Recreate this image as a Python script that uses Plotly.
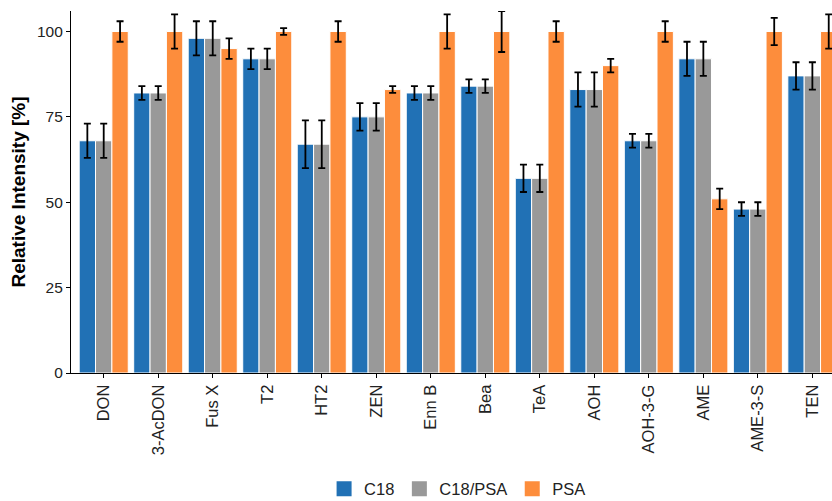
import plotly.graph_objects as go

# Analytes (x categories)
analytes = ["DON", "3-AcDON", "Fus X", "T2", "HT2", "ZEN", "Enn B", "Bea",
            "TeA", "AOH", "AOH-3-G", "AME", "AME-3-S", "TEN"]

# Relative intensity [%] per clean-up sorbent
c18 = [68, 82, 98, 92, 67, 75, 82, 84, 57, 83, 68, 92, 48, 87]
c18_psa = [68, 82, 98, 92, 67, 75, 82, 84, 57, 83, 68, 92, 48, 87]
psa = [100, 100, 95, 100, 100, 83, 100, 100, 100, 90, 100, 51, 100, 100]

# Standard deviations
c18_sd = [5, 2, 5, 3, 7, 4, 2, 2, 4, 5, 2, 5, 2, 4]
c18_psa_sd = [5, 2, 5, 3, 7, 4, 2, 2, 4, 5, 2, 5, 2, 4]
psa_sd = [3, 5, 3, 1, 3, 1, 5, 6, 3, 2, 3, 3, 4, 5]

series = [
    ("C18", c18, c18_sd, "#2171B5"),
    ("C18/PSA", c18_psa, c18_psa_sd, "#999999"),
    ("PSA", psa, psa_sd, "#FD8D3C"),
]

FONT = "Liberation Sans, Arial, sans-serif"
TEXT = "#222222"

fig = go.Figure()
for name, vals, sd, color in series:
    fig.add_trace(go.Bar(
        name=name,
        x=list(range(len(analytes))),
        y=vals,
        marker=dict(color=color, line=dict(color="white", width=1)),
        error_y=dict(type="data", array=sd, visible=True,
                     color="black", thickness=1.8, width=3.5),
        showlegend=False,
    ))

# Legend keys drawn as larger filled squares
for name, _, _, color in series:
    fig.add_trace(go.Scatter(
        name=name,
        x=[None], y=[None],
        mode="markers",
        marker=dict(symbol="square", size=15, color=color),
        showlegend=True,
    ))

fig.update_layout(
    barmode="group",
    bargap=0.1,
    bargroupgap=0,
    width=832,
    height=501,
    margin=dict(l=71, r=0, t=11, b=128),
    paper_bgcolor="white",
    plot_bgcolor="white",
    font=dict(family=FONT, size=16, color=TEXT),
    showlegend=True,
    legend=dict(
        orientation="h",
        x=0.508, xanchor="center",
        yref="container",
        y=0.024, yanchor="middle",
        font=dict(size=16.5, color=TEXT),
        traceorder="normal",
        itemwidth=30,
        itemsizing="trace",
    ),
)

fig.update_xaxes(
    tickmode="array",
    tickvals=list(range(len(analytes))),
    ticktext=analytes,
    tickangle=-90,
    range=[-0.6, 13.36],
    automargin=False,
    showline=True, linecolor="black", linewidth=1.2,
    ticks="outside", ticklen=4, tickcolor="black", tickwidth=1,
    showgrid=False, zeroline=False,
    tickfont=dict(size=16.5, color=TEXT),
)

fig.update_yaxes(
    range=[0, 106],
    tickvals=[0, 25, 50, 75, 100],
    automargin=False,
    showline=True, linecolor="black", linewidth=1.2,
    ticks="outside", ticklen=4, tickcolor="black", tickwidth=1,
    showgrid=False, zeroline=False,
    tickfont=dict(size=15.5, color=TEXT),
    title=dict(text="<b>Relative Intensity [%]</b>",
               font=dict(size=19, color="black"), standoff=6),
)

fig.write_html("out.html")
